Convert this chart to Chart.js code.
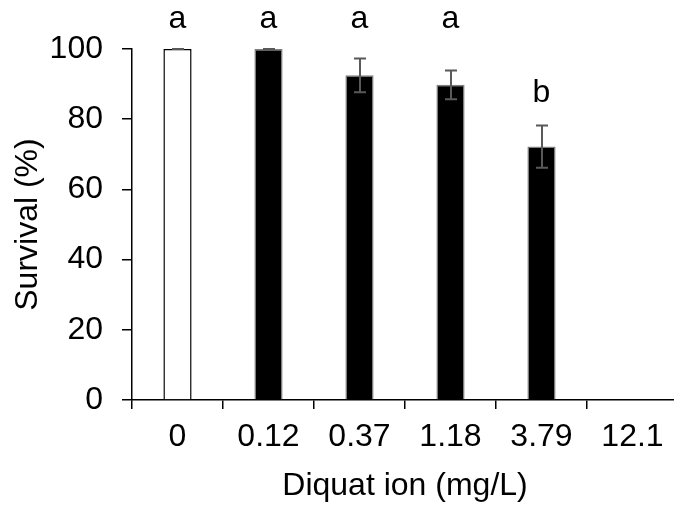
<!DOCTYPE html>
<html>
<head>
<meta charset="utf-8">
<script src="https://cdn.jsdelivr.net/npm/chart.js@4.4.1/dist/chart.umd.min.js"></script>
<style>
  html, body { margin: 0; padding: 0; background: #fff; overflow: hidden; }
  #wrap { width: 680px; height: 510px; }
</style>
</head>
<body>
<div id="wrap"><canvas id="myChart" width="680" height="510"></canvas></div>
<script>
"use strict";

// дозы (категории оси X)
const doses = ['0', '0.12', '0.37', '1.18', '3.79', '12.1'];
// выживаемость, %
const survival = [100, 100, 92.5, 89.8, 72.2, null];
// стандартное отклонение
const errors = [0, 0, 4.8, 4.1, 6.0, 0];
// буквы значимости
const letters = ['a', 'a', 'a', 'a', 'b', ''];
// на какой высоте (в единицах оси Y) стоит буква
const letterLevels = [106, 106, 106, 106, 85, 0];

const FONT = 'Arial, "Liberation Sans", sans-serif';
const SIZE = 32;

// рисуем планки погрешностей и буквы над столбиками
const errorBarsPlugin = {
    id: 'errorBars',
    afterDatasetsDraw(chart) {
        const ctx = chart.ctx;
        const y = chart.scales.y;
        const meta = chart.getDatasetMeta(0);
        ctx.save();
        ctx.strokeStyle = '#595959';
        ctx.lineWidth = 2;
        meta.data.forEach(function (bar, i) {
            if (survival[i] === null) return;
            const top = y.getPixelForValue(survival[i] + errors[i]);
            const bottom = y.getPixelForValue(survival[i] - errors[i]);
            const x = Math.round(bar.x);
            ctx.beginPath();
            ctx.moveTo(x, top);
            ctx.lineTo(x, bottom);
            ctx.moveTo(x - 6, top);
            ctx.lineTo(x + 6, top);
            ctx.moveTo(x - 6, bottom);
            ctx.lineTo(x + 6, bottom);
            ctx.stroke();
        });
        ctx.fillStyle = '#000';
        ctx.font = SIZE + 'px ' + FONT;
        ctx.textAlign = 'center';
        ctx.textBaseline = 'alphabetic';
        meta.data.forEach(function (bar, i) {
            if (!letters[i]) return;
            ctx.fillText(letters[i], bar.x, y.getPixelForValue(letterLevels[i]));
        });
        ctx.restore();
    }
};

const ctx = document.getElementById('myChart');
const myChart = new Chart(ctx, {
    type: 'bar',
    data: {
        labels: doses,
        datasets: [{
            data: survival,
            backgroundColor: ['#ffffff', '#000000', '#000000', '#000000', '#000000', '#000000'],
            borderColor: ['#000000', '#7f7f7f', '#7f7f7f', '#7f7f7f', '#7f7f7f', '#7f7f7f'],
            borderWidth: 1.5,
            categoryPercentage: 0.31,
            barPercentage: 1
        }]
    },
    options: {
        responsive: false,
        animation: false,
        layout: { padding: { top: 49, right: 2, left: 0, bottom: 0 } },
        plugins: {
            legend: { display: false },
            tooltip: { enabled: false }
        },
        scales: {
            x: {
                grid: { drawOnChartArea: false, drawTicks: true, tickLength: 9, color: '#000', lineWidth: 1.5 },
                border: { color: '#000', width: 1.5 },
                ticks: { color: '#000', font: { family: FONT, size: SIZE }, padding: 9, maxRotation: 0 },
                title: { display: true, text: 'Diquat ion (mg/L)', color: '#000', font: { family: FONT, size: SIZE }, padding: { top: 0, bottom: 5 } },
                afterFit(scale) { scale.height = 110; }
            },
            y: {
                min: 0,
                max: 100,
                ticks: { stepSize: 20, color: '#000', font: { family: FONT, size: SIZE }, padding: 19 },
                grid: { drawOnChartArea: false, drawTicks: true, tickLength: 10, color: '#000', lineWidth: 1.5 },
                border: { color: '#000', width: 1.5 },
                title: { display: true, text: 'Survival (%)', color: '#000', font: { family: FONT, size: SIZE }, padding: { top: 9, bottom: 0 } },
                afterFit(scale) { scale.width = 132; }
            }
        }
    },
    plugins: [errorBarsPlugin]
});
</script>
</body>
</html>
